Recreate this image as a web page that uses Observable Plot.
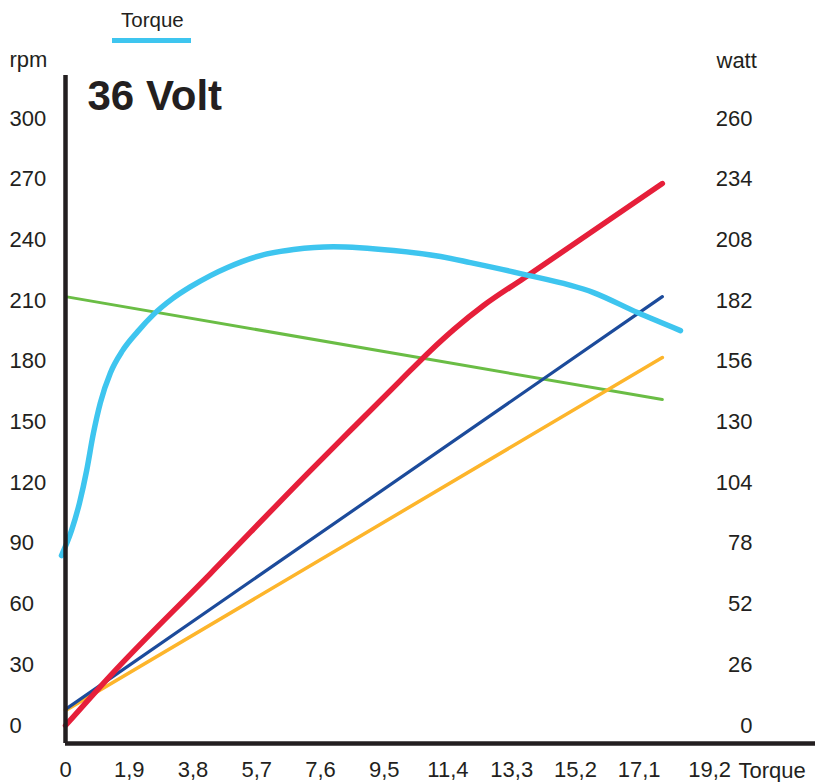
<!DOCTYPE html>
<html>
<head>
<meta charset="utf-8">
<script src="https://cdn.jsdelivr.net/npm/d3@7"></script>
<script src="https://cdn.jsdelivr.net/npm/@observablehq/plot@0.6"></script>
<style>
  html, body { margin: 0; padding: 0; background: #fff; }
  #wrap { position: relative; width: 815px; height: 782px; font-family: "Liberation Sans", Arial, sans-serif; color: #231f20; }
  #legendText { position: absolute; left: 121px; top: 10px; font-size: 20.5px; line-height: 20px; }
  #legendLine { position: absolute; left: 112px; top: 37.5px; width: 79px; height: 5px; background: #3ec5ef; }
  #chart { position: absolute; left: 0; top: 0; }
</style>
</head>
<body>
<div id="wrap">
  <div id="chart"></div>
  <div id="legendLine"></div>
  <div id="legendText">Torque</div>
</div>
<script>
// Axis ticks / labels
const xTickValues = [0, 1.9, 3.8, 5.7, 7.6, 9.5, 11.4, 13.3, 15.2, 17.1, 19.2];
const xTickLabels = ["0", "1,9", "3,8", "5,7", "7,6", "9,5", "11,4", "13,3", "15,2", "17,1", "19,2"];
const rpmTicks = [0, 30, 60, 90, 120, 150, 180, 210, 240, 270, 300];
const wattLabels = ["0", "26", "52", "78", "104", "130", "156", "182", "208", "234", "260"];

// Torque curve (cyan)
const cyanX = [-0.12, 0.18, 0.42, 0.63, 0.83, 1.04, 1.34, 1.70, 2.15, 2.62, 3.19, 3.73, 4.32, 4.83, 5.81, 6.80, 7.99, 9.78, 11.18, 12.07, 13.56, 15.74, 17.05, 18.33];
const cyanY = [84, 96.4, 110.2, 126, 144.3, 159.6, 174.4, 185.3, 194.7, 203.1, 211.0, 216.9, 222.4, 226.4, 232.3, 235.3, 236.7, 234.8, 231.8, 228.8, 223.4, 214.0, 204.1, 195.2];

// Red curve
const redX = [0, 1.34, 4.32, 7.30, 8.49, 9.98, 10.88, 11.57, 12.46, 13.65, 15.35, 17.79];
const redY = [0, 24.7, 75.1, 126.0, 145.8, 170.5, 185.3, 195.7, 207.6, 221.0, 240.2, 267.9];

// Straight lines
const blueX = [0, 17.79];
const blueY = [8, 212];
const orangeX = [0, 17.79];
const orangeY = [7.4, 181.9];
const greenX = [0, 17.79];
const greenY = [212, 161.1];

const toRows = (xs, ys) => xs.map((x, i) => ({x, y: ys[i]}));
const cyan = toRows(cyanX, cyanY);
const red = toRows(redX, redY);
const blue = toRows(blueX, blueY);
const orange = toRows(orangeX, orangeY);
const green = toRows(greenX, greenY);

const yMin = -8.9, yMax = 321.3;
const ink = "#231f20";

const chart = Plot.plot({
  width: 815,
  height: 782,
  marginLeft: 65,
  marginRight: 0,
  marginTop: 75,
  marginBottom: 39,
  x: {domain: [0, 22.355]},
  y: {domain: [yMin, yMax]},
  style: {fontFamily: "'Liberation Sans', Arial, sans-serif", color: ink, background: "white", overflow: "visible"},
  marks: [
    Plot.axisX({ticks: xTickValues, tickFormat: d => xTickLabels[xTickValues.indexOf(d)], tickSize: 0, tickPadding: 18, fontSize: 22, label: null}),
    Plot.axisY({anchor: "left", ticks: rpmTicks, tickSize: 0, tickPadding: 0, dx: -56, textAnchor: "start", fontSize: 22, label: null}),
    Plot.axisY({anchor: "right", ticks: rpmTicks, tickFormat: d => wattLabels[rpmTicks.indexOf(d)], tickSize: 0, tickPadding: 0, dx: -63, textAnchor: "end", fontSize: 22, label: null}),
    Plot.text(["rpm"], {frameAnchor: "top-left", dx: -56, dy: -9, textAnchor: "start", lineAnchor: "bottom", fontSize: 22, fill: ink}),
    Plot.text(["watt"], {frameAnchor: "top-right", dx: -99, dy: -8, textAnchor: "start", lineAnchor: "bottom", fontSize: 22, fill: ink}),
    Plot.text(["Torque"], {frameAnchor: "bottom-right", dx: -77, dy: 34, textAnchor: "start", lineAnchor: "bottom", fontSize: 22, fill: ink}),
    Plot.text(["36 Volt"], {frameAnchor: "top-left", dx: 22, dy: 34, textAnchor: "start", lineAnchor: "bottom", fontSize: 42, fontWeight: "bold", fill: ink, letterSpacing: "-1.3px"}),
    Plot.line(green, {x: "x", y: "y", stroke: "#6abd45", strokeWidth: 3}),
    Plot.line(orange, {x: "x", y: "y", stroke: "#fdb52b", strokeWidth: 3.5}),
    Plot.line(blue, {x: "x", y: "y", stroke: "#1c4b9b", strokeWidth: 3.2}),
    Plot.line(red, {x: "x", y: "y", stroke: "#e61f3a", strokeWidth: 5.5, curve: "monotone-x"}),
    Plot.line(cyan, {x: "x", y: "y", stroke: "#3ec5ef", strokeWidth: 5.5, curve: "monotone-x"}),
    Plot.ruleY([yMin], {stroke: ink, strokeWidth: 4.5}),
    Plot.ruleX([0], {y1: yMin, y2: yMax, stroke: ink, strokeWidth: 4.5})
  ]
});
document.getElementById("chart").appendChild(chart);
</script>
</body>
</html>
